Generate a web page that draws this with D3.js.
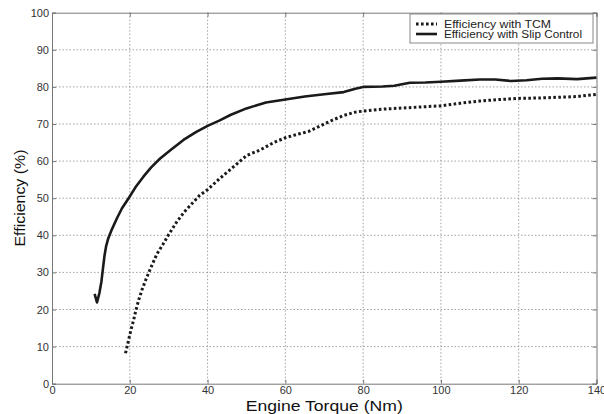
<!DOCTYPE html>
<html><head><meta charset="utf-8">
<script src="https://cdn.jsdelivr.net/npm/d3@7"></script>
<style>body{margin:0;background:#fff}svg{display:block}</style>
</head><body>
<svg id="c" width="604" height="414"></svg>
<script>
const xTicks = [0,20,40,60,80,100,120,140];
const yTicks = [0,10,20,30,40,50,60,70,80,90,100];
const seriesNames = ["Efficiency with TCM","Efficiency with Slip Control"];
const slipX = [10.95,11.57,12.2,12.7,13.1,13.5,13.9,14.5,15.4,16.7,18,19.7,21.5,23.5,25.5,27.8,30.5,33.8,37,40,43,46,50,55,60,65,70,75,78,80,85,88,92,96,100,105,110,114,118,122,126,130,135,140];
const slipY = [24.2,21.9,24.5,27.5,31,34.5,37,39.3,41.6,44.6,47.3,50,53,55.8,58.3,60.7,63,65.7,67.8,69.5,70.9,72.5,74.2,75.8,76.6,77.4,78,78.6,79.5,80,80.1,80.3,81.1,81.2,81.4,81.7,82,82,81.6,81.8,82.2,82.3,82.1,82.5];
const tcmX = [18.9,19.3,19.7,20.3,21,21.5,22.3,23.2,24.3,25.5,27,28.5,30,32,34,36.4,38,40,43,46.7,50,53.5,57,60,63,66,69,72,75,78,80,85,90,95,100,105,110,115,120,125,130,135,140];
const tcmY = [8.2,10,11.8,14.5,17.2,19.5,22.6,25.5,28.5,31.5,35,37.5,40.2,43.5,46.3,49,50.8,52.3,55.2,58.5,61.5,63,65,66.3,67.2,68,69.5,71,72.3,73.2,73.5,74,74.3,74.6,74.9,75.6,76.2,76.6,76.9,77,77.2,77.4,78];

const svg = d3.select("#c");
const L=52, R=596.5, T=12.7, B=383.7;
const x = d3.scaleLinear().domain([0,140]).range([L,R]);
const y = d3.scaleLinear().domain([0,100]).range([B,T]);
const font = "Liberation Sans, Arial, sans-serif";

// grid
const g = svg.append("g");
g.selectAll(".vx").data(xTicks.slice(1,-1)).enter().append("line")
 .attr("x1",d=>x(d)).attr("x2",d=>x(d)).attr("y1",T).attr("y2",B)
 .attr("stroke","#8a8a8a").attr("stroke-width",0.8).attr("stroke-dasharray","1.5,2");
g.selectAll(".hy").data(yTicks.slice(1,-1)).enter().append("line")
 .attr("y1",d=>y(d)).attr("y2",d=>y(d)).attr("x1",L).attr("x2",R)
 .attr("stroke","#8a8a8a").attr("stroke-width",0.8).attr("stroke-dasharray","1.5,2");

// axes
svg.append("g").attr("transform",`translate(0,${B})`)
 .call(d3.axisBottom(x).tickValues(xTicks).tickSize(-4).tickPadding(2).tickFormat(d3.format("d")));
svg.append("g").attr("transform",`translate(${L},0)`)
 .call(d3.axisLeft(y).tickValues(yTicks).tickSize(-4).tickPadding(3).tickFormat(d3.format("d")));
svg.append("g").attr("transform",`translate(0,${T})`)
 .call(d3.axisTop(x).tickValues(xTicks).tickSize(-4).tickFormat(""));
svg.append("g").attr("transform",`translate(${R},0)`)
 .call(d3.axisRight(y).tickValues(yTicks).tickSize(-4).tickFormat(""));
svg.selectAll(".domain").attr("stroke","#777");
svg.selectAll(".tick line").attr("stroke","#777");
svg.selectAll(".tick text").attr("font-family",font).attr("font-size",11).attr("fill","#333");

// lines
const line = d3.line().x(d=>x(d[0])).y(d=>y(d[1]));
svg.append("path").datum(tcmX.map((v,i)=>[v,tcmY[i]])).attr("d",line)
 .attr("fill","none").attr("stroke","#1a1a1a").attr("stroke-width",3).attr("stroke-dasharray","2.6,2.4");
svg.append("path").datum(slipX.map((v,i)=>[v,slipY[i]])).attr("d",line)
 .attr("fill","none").attr("stroke","#1a1a1a").attr("stroke-width",2.6).attr("stroke-linejoin","round");

// legend
const lg = svg.append("g");
lg.append("rect").attr("x",410).attr("y",14).attr("width",183).attr("height",29)
 .attr("fill","#fff").attr("stroke","#888").attr("stroke-width",1);
const items = [{dash:"2.6,2.4",w:3,len:107},{dash:null,w:2.6,len:138}];
items.forEach((it,i)=>{
  const yy = 24 + i*10;
  lg.append("line").attr("x1",416).attr("x2",437).attr("y1",yy).attr("y2",yy)
   .attr("stroke","#1a1a1a").attr("stroke-width",it.w).attr("stroke-dasharray",it.dash);
  lg.append("text").attr("x",444).attr("y",yy+3.5).text(seriesNames[i])
   .attr("font-family",font).attr("font-size",10).attr("fill","#222")
   .attr("textLength",it.len).attr("lengthAdjust","spacingAndGlyphs");
});

// labels
svg.append("text").attr("x",(L+R)/2).attr("y",410.5).attr("text-anchor","middle")
 .attr("font-family",font).attr("font-size",14.5).attr("fill","#111")
 .attr("textLength",157).attr("lengthAdjust","spacingAndGlyphs").text("Engine Torque (Nm)");
svg.append("text").attr("transform","translate(25,198) rotate(-90)").attr("text-anchor","middle")
 .attr("font-family",font).attr("font-size",14.5).attr("fill","#111")
 .attr("textLength",97).attr("lengthAdjust","spacingAndGlyphs").text("Efficiency (%)");
</script>
</body></html>
